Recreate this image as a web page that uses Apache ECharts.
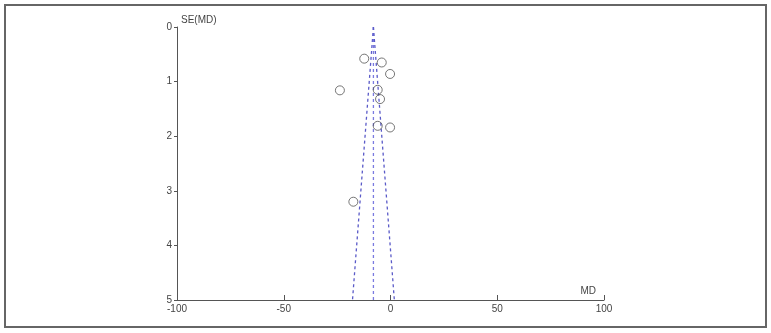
<!DOCTYPE html>
<html>
<head>
<meta charset="utf-8">
<style>
  html, body { margin: 0; padding: 0; background: #fff; }
  #chart { width: 771px; height: 333px; }
</style>
<script src="https://cdn.jsdelivr.net/npm/echarts@6/dist/echarts.min.js"></script>
</head>
<body>
<div id="chart"></div>
<script>
// study estimates (mean difference, standard error)
const mdValues = [-12.3, -4.1, -0.2, -23.7, -6.0, -4.9, -6.0, -0.2, -17.4];
const seValues = [0.58, 0.65, 0.86, 1.16, 1.15, 1.32, 1.81, 1.84, 3.2];

// funnel: pooled estimate and pseudo 95% limits at the bottom of the plot
const pooledMd = -8;
const funnelSe = [0, 5];
const lowerMd = [-8, -17.8];
const upperMd = [-8, 1.8];

const xTicks = [-100, -50, 0, 50, 100];
const yTicks = [0, 1, 2, 3, 4, 5];

const chart = echarts.init(document.getElementById('chart'));

const points = mdValues.map((md, i) => [md, seValues[i]]);
const funnelLine = (mds, color, width) => ({
  type: 'line',
  data: funnelSe.map((se, i) => [mds[i], se]),
  symbol: 'none',
  color: color,
  lineStyle: { color: color, width: width, type: [3, 3] },
  itemStyle: { color: color },
  silent: true,
  z: 1
});

const labelFont = { color: '#444', fontSize: 10, fontFamily: 'Liberation Sans' };

const option = {
  backgroundColor: '#fff',
  animation: false,
  graphic: [{
    type: 'rect',
    shape: { x: 5, y: 5, width: 761, height: 322 },
    style: { fill: 'none', stroke: '#666', lineWidth: 2 },
    z: -1
  }],
  grid: { left: 177, right: 167, top: 27, bottom: 33 },
  xAxis: {
    type: 'value',
    min: xTicks[0],
    max: xTicks[xTicks.length - 1],
    interval: 50,
    name: 'MD',
    nameLocation: 'end',
    nameGap: -8,
    nameTextStyle: Object.assign({ align: 'right', verticalAlign: 'bottom', padding: [0, 0, 4, 0] }, labelFont),
    axisLine: { onZero: false, lineStyle: { color: '#555', width: 1 } },
    axisTick: { inside: true, length: 5, lineStyle: { color: '#555' } },
    axisLabel: Object.assign({ margin: 4 }, labelFont),
    splitLine: { show: false }
  },
  yAxis: {
    type: 'value',
    inverse: true,
    min: yTicks[0],
    max: yTicks[yTicks.length - 1],
    interval: 1,
    name: 'SE(MD)',
    nameLocation: 'start',
    nameGap: 0,
    nameTextStyle: Object.assign({ align: 'left', verticalAlign: 'bottom', padding: [0, 0, 2, 4] }, labelFont),
    axisLine: { onZero: false, lineStyle: { color: '#555', width: 1 } },
    axisTick: { length: 3, lineStyle: { color: '#555' } },
    axisLabel: Object.assign({ margin: 5 }, labelFont),
    splitLine: { show: false }
  },
  series: [
    funnelLine(lowerMd, '#5a5ac8', 1.3),
    funnelLine([pooledMd, pooledMd], '#7a7ae0', 1.3),
    funnelLine(upperMd, '#5a5ac8', 1.3),
    {
      type: 'scatter',
      data: points,
      symbol: 'circle',
      symbolSize: 9,
      itemStyle: { color: 'rgba(255,255,255,0)', borderColor: '#555', borderWidth: 1 },
      z: 3
    }
  ]
};

chart.setOption(option);
</script>
</body>
</html>
